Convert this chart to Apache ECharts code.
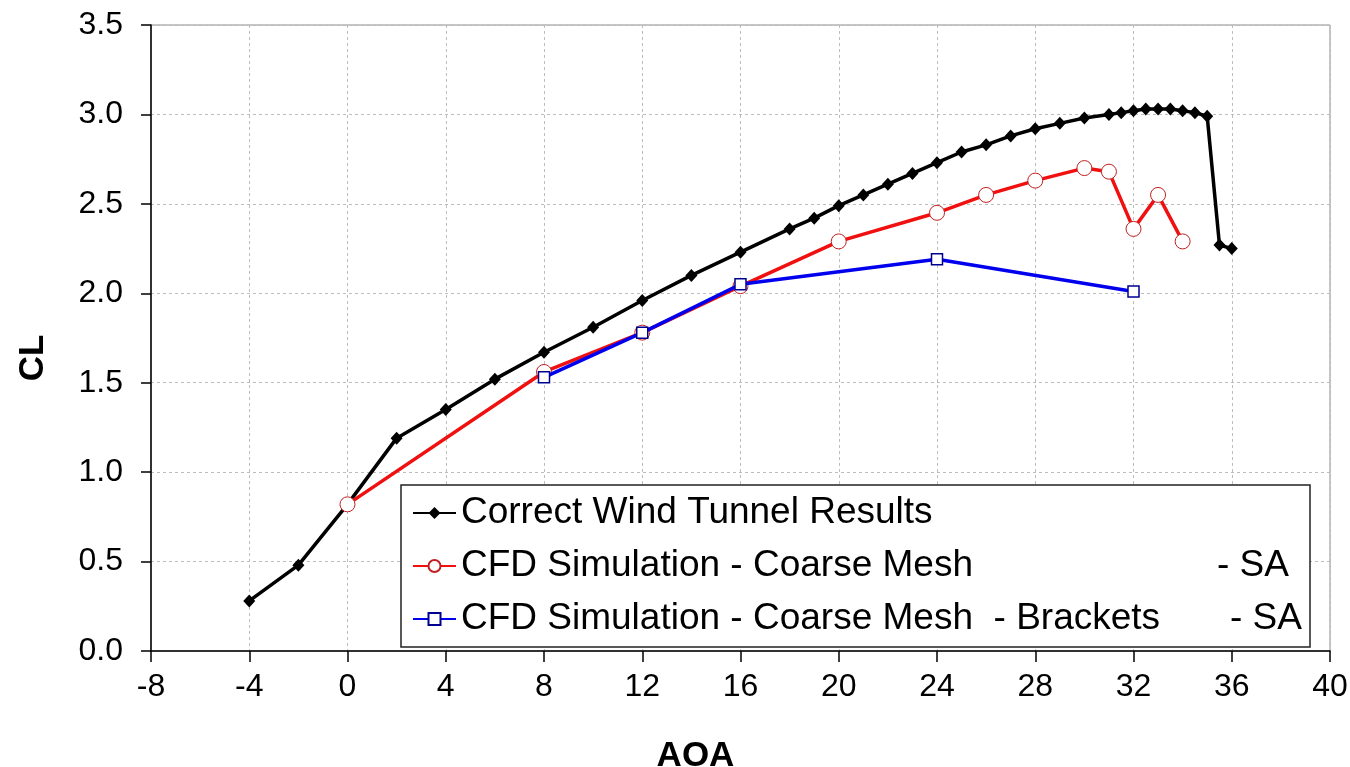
<html>

<head>
    <meta charset='utf-8' />
    <script src="https://cdn.jsdelivr.net/npm/echarts@6/dist/echarts.min.js"></script>
    <title>CL vs AOA</title>
    <style>
        html, body {
            margin: 0;
            padding: 0;
            background: #fff;
            overflow: hidden;
        }

        #chart {
            width: 1350px;
            height: 767px;
        }
    </style>
</head>

<body>
    <div id="chart"></div>
    <script type="text/javascript">
        // wind tunnel
        var tunnelAoa = [-4, -2, 0, 2, 4, 6, 8, 10, 12, 14, 16, 18, 19, 20, 21, 22, 23, 24, 25, 26, 27, 28, 29, 30, 31, 31.5, 32, 32.5, 33, 33.5, 34, 34.5, 35, 35.5, 36];
        var tunnelCl = [0.28, 0.48, 0.82, 1.19, 1.35, 1.52, 1.67, 1.81, 1.96, 2.10, 2.23, 2.36, 2.42, 2.49, 2.55, 2.61, 2.67, 2.73, 2.79, 2.83, 2.88, 2.92, 2.95, 2.98, 3.00, 3.01, 3.02, 3.03, 3.03, 3.03, 3.02, 3.01, 2.99, 2.27, 2.25];
        // coarse mesh
        var coarseAoa = [0, 8, 12, 16, 20, 24, 26, 28, 30, 31, 32, 33, 34];
        var coarseCl = [0.82, 1.56, 1.78, 2.04, 2.29, 2.45, 2.55, 2.63, 2.70, 2.68, 2.36, 2.55, 2.29];
        // coarse mesh with brackets
        var bracketAoa = [8, 12, 16, 24, 32];
        var bracketCl = [1.53, 1.78, 2.05, 2.19, 2.01];

        var seriesNames = [
            'Correct Wind Tunnel Results',
            'CFD Simulation - Coarse Mesh - SA',
            'CFD Simulation - Coarse Mesh - Brackets - SA'
        ];
        var legendMain = [
            'Correct Wind Tunnel Results',
            'CFD Simulation - Coarse Mesh',
            'CFD Simulation - Coarse Mesh  - Brackets'
        ];
        var legendSuffix = ['', '- SA', '- SA'];

        var xTicks = { min: -8, max: 40, interval: 4 };
        var yTicks = { min: 0, max: 3.5, interval: 0.5 };

        function pairs(xs, ys) {
            return xs.map(function (x, i) { return [x, ys[i]]; });
        }

        var font = "'Liberation Sans', Arial, sans-serif";
        var legendFont = { fontSize: 37, lineHeight: 40, fontFamily: font, color: '#000' };

        var chart = echarts.init(document.getElementById('chart'), null, { renderer: 'canvas' });

        var option = {
            animation: false,
            backgroundColor: '#fff',
            textStyle: { fontFamily: font },
            grid: {
                left: 151,
                right: 20,
                top: 25,
                bottom: 116,
                outerBoundsMode: 'none',
                show: true,
                borderColor: '#8c8c8c',
                borderWidth: 1,
                backgroundColor: 'transparent'
            },
            legend: {
                orient: 'vertical',
                left: 401,
                top: 485,
                padding: [8, 2, 8, 11],
                itemGap: 13,
                itemWidth: 43,
                itemHeight: 15,
                backgroundColor: '#fff',
                borderColor: '#222',
                borderWidth: 1.5,
                selectedMode: false,
                data: seriesNames,
                formatter: function (name) {
                    var i = seriesNames.indexOf(name);
                    if (i === 0) return '{a|' + legendMain[0] + '}';
                    return '{m' + i + '|' + legendMain[i] + '}{s' + i + '|' + legendSuffix[i] + '}';
                },
                textStyle: {
                    fontFamily: font,
                    fontSize: 37,
                    color: '#000',
                    lineHeight: 40,
                    rich: {
                        a: legendFont,
                        m1: Object.assign({ width: 756 }, legendFont),
                        s1: Object.assign({ width: 91 }, legendFont),
                        m2: Object.assign({ width: 769 }, legendFont),
                        s2: Object.assign({ width: 78 }, legendFont)
                    }
                }
            },
            xAxis: {
                type: 'value',
                min: xTicks.min,
                max: xTicks.max,
                interval: xTicks.interval,
                name: 'AOA',
                nameLocation: 'middle',
                nameGap: 88,
                nameTextStyle: {
                    fontFamily: font,
                    fontSize: 35,
                    fontWeight: 'bold',
                    color: '#000',
                    padding: [0, 90, 0, 0]
                },
                axisLine: { onZero: false, lineStyle: { color: '#000', width: 1.5 } },
                axisTick: { show: true, length: 11, inside: false, lineStyle: { color: '#000', width: 1.5 } },
                axisLabel: {
                    fontFamily: font,
                    fontSize: 32,
                    color: '#000',
                    margin: 20
                },
                splitLine: {
                    show: true,
                    lineStyle: { color: '#bdbdbd', type: [3, 3], width: 1 }
                }
            },
            yAxis: {
                type: 'value',
                min: yTicks.min,
                max: yTicks.max,
                interval: yTicks.interval,
                name: 'CL',
                nameLocation: 'middle',
                nameGap: 100,
                nameRotate: 90,
                nameTextStyle: {
                    fontFamily: font,
                    fontSize: 35,
                    fontWeight: 'bold',
                    color: '#000',
                    padding: [0, 40, 0, 0]
                },
                axisLine: { show: true, onZero: false, lineStyle: { color: '#000', width: 1.5 } },
                axisTick: { show: true, length: 10, inside: false, lineStyle: { color: '#000', width: 1.5 } },
                axisLabel: {
                    fontFamily: font,
                    fontSize: 32,
                    color: '#000',
                    margin: 28,
                    formatter: function (v) { return v.toFixed(1); }
                },
                splitLine: {
                    show: true,
                    lineStyle: { color: '#bdbdbd', type: [3, 3], width: 1 }
                }
            },
            series: [
                {
                    name: seriesNames[0],
                    type: 'line',
                    data: pairs(tunnelAoa, tunnelCl),
                    symbol: 'diamond',
                    symbolSize: [12, 13],
                    lineStyle: { color: '#000', width: 3.5 },
                    itemStyle: { color: '#000', borderColor: '#000', borderWidth: 0 },
                    z: 3
                },
                {
                    name: seriesNames[1],
                    type: 'line',
                    data: pairs(coarseAoa, coarseCl),
                    symbol: 'circle',
                    symbolSize: 15,
                    showAllSymbol: true,
                    lineStyle: { color: '#f01010', width: 3.5 },
                    itemStyle: { color: '#fff', borderColor: '#c02020', borderWidth: 1 },
                    z: 4
                },
                {
                    name: seriesNames[2],
                    type: 'line',
                    data: pairs(bracketAoa, bracketCl),
                    symbol: 'rect',
                    symbolSize: 11,
                    showAllSymbol: true,
                    lineStyle: { color: '#0000ee', width: 3.5 },
                    itemStyle: { color: '#fff', borderColor: '#000090', borderWidth: 1.5 },
                    z: 5
                }
            ]
        };

        chart.setOption(option);
    </script>
</body>

</html>
